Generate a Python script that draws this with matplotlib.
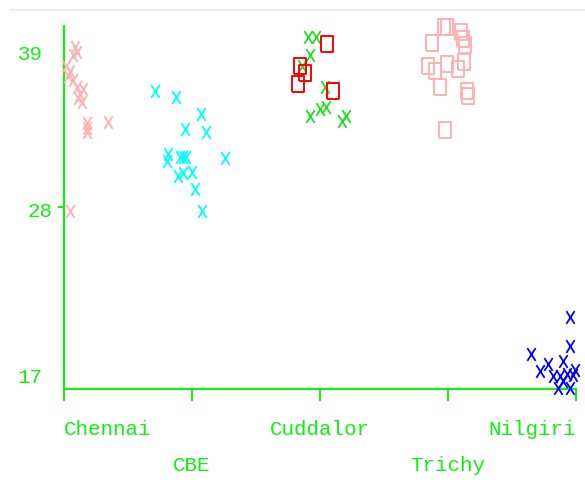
import matplotlib
matplotlib.use("Agg")
import matplotlib.pyplot as plt
from matplotlib.path import Path
from matplotlib.lines import Line2D

# category axis: 0..4
categories = ["Chennai", "CBE", "Cuddalor", "Trichy", "Nilgiri"]
y_ticks = [39, 28, 17]

# values (x in category units, jittered)
chennai_x = [0.086, 0.102, 0.070, 0.016, 0.047, 0.031, 0.070, 0.102, 0.148,
             0.125, 0.109, 0.141, 0.180, 0.180, 0.180, 0.344, 0.047]
chennai_y = [39.5, 39.1, 38.9, 38.1, 37.8, 37.4, 37.1, 36.6, 36.5,
             36.1, 35.8, 35.5, 34.0, 33.7, 33.4, 34.1, 27.7]

cbe_x = [0.711, 0.875, 1.070, 0.945, 1.109, 0.813, 0.805, 0.906, 0.930,
         0.953, 1.258, 0.891, 0.930, 1.000, 1.023, 1.078]
cbe_y = [36.3, 35.9, 34.7, 33.6, 33.4, 31.8, 31.3, 31.6, 31.6,
         31.6, 31.5, 30.2, 30.4, 30.5, 29.3, 27.7]

cud_x = [1.906, 1.969, 1.922, 1.859, 2.039, 1.922, 2.000, 2.047, 2.172, 2.203]
cud_y = [40.2, 40.2, 38.9, 38.1, 36.6, 34.5, 35.0, 35.2, 34.2, 34.5]

cud2_x = [2.055, 1.844, 1.883, 1.828, 2.102]
cud2_y = [39.7, 38.1, 37.6, 36.8, 36.3]

trichy_x = [2.969, 2.992, 3.102, 3.117, 3.133, 2.875, 2.844, 2.898, 2.992,
            3.078, 3.125, 2.938, 3.148, 3.156, 2.977]
trichy_y = [40.9, 40.9, 40.6, 40.1, 39.6, 39.8, 38.1, 37.8, 38.3,
            37.9, 38.4, 36.6, 36.3, 36.0, 33.5]

nil_x = [3.953, 3.953, 3.648, 3.719, 3.781, 3.898, 3.820, 3.875, 3.930,
         3.992, 3.977, 3.859, 3.953, 3.898]
nil_y = [20.1, 18.0, 17.4, 16.2, 16.7, 16.9, 15.8, 15.8, 16.0,
         16.3, 15.9, 15.0, 15.0, 15.5]

GREEN = "#11ee11"
FONT = "Liberation Mono"

xmark = Path([(-0.65, -1), (0.65, 1), (-0.65, 1), (0.65, -1)],
             [Path.MOVETO, Path.LINETO, Path.MOVETO, Path.LINETO])
rect = Path([(-0.72, -1), (0.72, -1), (0.72, 1), (-0.72, 1), (-0.72, -1)])

fig = plt.figure(figsize=(5.85, 4.89), dpi=100)
ax = fig.add_axes([64 / 585, 1 - 390 / 489, 512 / 585, 363 / 489])

def draw(xs, ys, marker, color, size, lw):
    ax.plot(xs, ys, linestyle="none", marker=marker, markersize=size,
            markerfacecolor="none", markeredgecolor=color,
            markeredgewidth=lw, clip_on=False, zorder=3)

draw(chennai_x, chennai_y, xmark, "#ffb0b0", 9.2, 1.3)
draw(cbe_x, cbe_y, xmark, "#00ffff", 9.2, 1.3)
draw(cud_x, cud_y, xmark, "#22dd22", 9.2, 1.3)
draw(cud2_x, cud2_y, rect, "#ff0000", 11.2, 1.4)
draw(trichy_x, trichy_y, rect, "#ffb0b0", 11.2, 1.4)
draw(nil_x, nil_y, xmark, "#0000ff", 9.2, 1.3)

ax.set_xlim(0, 4)
ax.set_ylim(14.9, 41.0)

for s in ["top", "right"]:
    ax.spines[s].set_visible(False)
for s in ["left", "bottom"]:
    ax.spines[s].set_color(GREEN)
    ax.spines[s].set_linewidth(1.6)
    ax.spines[s].set_zorder(2.5)

ax.set_xticks(range(len(categories)))
ax.set_xticklabels([])
ax.tick_params(axis="x", direction="out", length=8.5, width=1.4, color=GREEN)
ax.set_yticks([28])
ax.set_yticklabels([])
ax.tick_params(axis="y", direction="out", length=4.5, width=1.4, color=GREEN)

# x labels, staggered on two rows
xtr = ax.get_xaxis_transform()
aligns = ["left", "center", "center", "center", "right"]
rows = [-0.110, -0.209, -0.110, -0.209, -0.110]
for i, name in enumerate(categories):
    ax.text(i, rows[i], name, transform=xtr, ha=aligns[i], va="center",
            color=GREEN, fontsize=15, family=FONT)

# y labels
ytr = ax.get_yaxis_transform()
ylab_x = [-0.042, -0.023, -0.042]
ylab_y = [39, 27.7, 15.8]
for t, xx, yy in zip(y_ticks, ylab_x, ylab_y):
    ax.text(xx, yy, str(t), transform=ytr, ha="right", va="center",
            color=GREEN, fontsize=15, family=FONT)

# thin grey rule at the top of the picture
fig.add_artist(Line2D([11 / 585, 1], [1 - 11 / 489, 1 - 11 / 489],
                      color="#eeeeee", linewidth=1.6))

fig.savefig("out.png", dpi=100)
